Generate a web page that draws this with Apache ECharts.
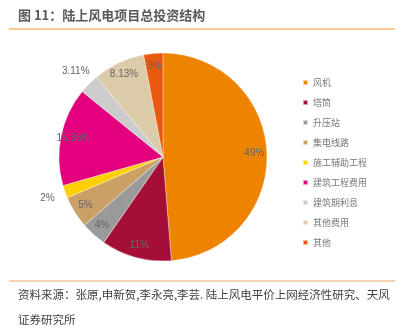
<!DOCTYPE html>
<html><head><meta charset="utf-8">
<script src="https://cdn.jsdelivr.net/npm/echarts@6/dist/echarts.min.js"></script>
<style>html,body{margin:0;padding:0;background:#fff}#c{width:416px;height:329px}</style>
</head><body><div id="c"></div>
<script>
const categories = ['风机','塔筒','升压站','集电线路','施工辅助工程','建筑工程费用','建筑期利息','其他费用','其他'];
const values = [49, 11, 4, 5, 2, 15.36, 3.11, 8.13, 3];
const labels = ['49%','11%','4%','5%','2%','15.36%','3.11%','8.13%','3%'];
const outsideLabel = [false,false,false,false,true,false,true,false,false];
const colors = ['#EE8300','#A50F37','#9A9A9A','#C9A166','#FFD000','#E2007F','#CCCCCC','#DCCBA8','#EA5A0E'];

const chart = echarts.init(document.getElementById('c'));
const center = [163, 157];
const R = 104;
const baseData = categories.map((n,i)=>({name:n, value:values[i], itemStyle:{color:colors[i]}}));
const innerLabelData = categories.map((n,i)=>({name:n, value:values[i], label:{show:!outsideLabel[i], formatter:labels[i]}}));
const outerLabelData = categories.map((n,i)=>({name:n, value:values[i], label:{show:outsideLabel[i], formatter:labels[i]}}));
const transparentRing = (radius, data) => ({
  type:'pie', center, radius, startAngle:90, clockwise:true, silent:true,
  avoidLabelOverlap:false, legendHoverLink:false, animation:false,
  itemStyle:{color:'rgba(0,0,0,0)', borderWidth:0},
  label:{position:'inside', color:'#666', fontSize:10, fontFamily:'Liberation Sans, Arial, sans-serif'},
  labelLine:{show:false}, emphasis:{disabled:true}, data
});
chart.setOption({
  animation:false,
  color: colors,
  graphic:[
    {type:'text', left:18, top:9, style:{text:'图 11：陆上风电项目总投资结构', fill:'#595959', font:'bold 13px "Noto Sans CJK SC", sans-serif'}},
    {type:'line', shape:{x1:9,y1:29,x2:395,y2:29}, style:{stroke:'#FBC795', lineWidth:2}},
    {type:'line', shape:{x1:9,y1:281,x2:395,y2:281}, style:{stroke:'#E9A66C', lineWidth:1.2}},
    {type:'text', left:18, top:289, style:{text:'资料来源：张原,申新贺,李永亮,李芸. 陆上风电平价上网经济性研究、天风', fill:'#404040', font:'11.5px "Noto Sans CJK SC", sans-serif'}},
    {type:'text', left:18, top:314, style:{text:'证券研究所', fill:'#404040', font:'11.5px "Noto Sans CJK SC", sans-serif'}}
  ],
  legend:{
    orient:'vertical', left:297, top:73, icon:'rect', itemWidth:5, itemHeight:5, itemGap:11,
    textStyle:{color:'#777', fontSize:9, fontFamily:'"Noto Sans CJK SC", sans-serif'},
    data: categories
  },
  series:[
    {type:'pie', center, radius:[0,R], startAngle:90, clockwise:true, animation:false,
     itemStyle:{borderColor:'rgba(255,255,255,0.6)', borderWidth:0.6},
     label:{show:false}, labelLine:{show:false}, emphasis:{disabled:true}, data: baseData},
    transparentRing([R*0.7, R], innerLabelData),
    transparentRing([R, R*1.3], outerLabelData)
  ]
});
</script></body></html>
